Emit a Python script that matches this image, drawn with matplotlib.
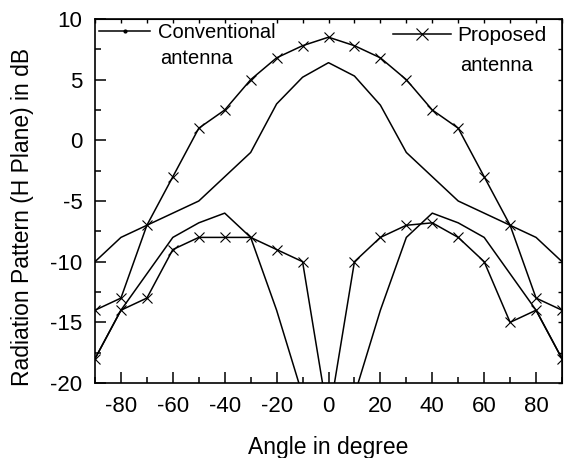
import matplotlib
matplotlib.use('Agg')
import matplotlib.pyplot as plt
from matplotlib.lines import Line2D
from matplotlib.ticker import MultipleLocator

plt.rcParams['font.family'] = ['Liberation Sans', 'DejaVu Sans']
plt.rcParams['axes.unicode_minus'] = False

angle = [-90, -80, -70, -60, -50, -40, -30, -20, -10, 0, 10, 20, 30, 40, 50, 60, 70, 80, 90]
conv_co = [-10, -8, -7, -6, -5, -3, -1, 3, 5.2, 6.4, 5.3, 2.9, -1, -3, -5, -6, -7, -8, -10]
conv_cross = [-18, -14, -11, -8, -6.8, -6, -8, -14, -21, -30, -21, -14, -8, -6, -6.8, -8, -11, -14, -18]
prop_co = [-14, -13, -7, -3, 1, 2.5, 5, 6.8, 7.8, 8.5, 7.8, 6.8, 5, 2.5, 1, -3, -7, -13, -14]
prop_cross = [-18, -14, -13, -9, -8, -8, -8, -9, -10, -23, -10, -8, -7, -6.8, -8, -10, -15, -14, -18]

W, H = 565, 458
fig = plt.figure(figsize=(W / 100, H / 100), dpi=100)
ax = fig.add_axes([95 / W, 1 - 383 / H, 467 / W, 364 / H])

lw = 1.1
ax.plot(angle, conv_co, color='black', lw=lw)
ax.plot(angle, conv_cross, color='black', lw=lw)
ax.plot(angle, prop_co, color='black', lw=lw, marker='x', ms=7.5, mew=0.8)
ax.plot(angle, prop_cross, color='black', lw=lw, marker='x', ms=7.5, mew=0.8)

ax.set_xlim(-90, 90)
ax.set_ylim(-20, 10)
ax.xaxis.set_major_locator(MultipleLocator(20))
ax.xaxis.set_minor_locator(MultipleLocator(10))
ax.yaxis.set_major_locator(MultipleLocator(5))
ax.yaxis.set_minor_locator(MultipleLocator(2.5))
ax.tick_params(which='major', direction='in', length=8, width=1.1, labelsize=16, pad=9)
ax.tick_params(which='minor', direction='in', length=4, width=1.1)
for s in ax.spines.values():
    s.set_linewidth(1.2)

# small ticks on top and right
top = ax.secondary_xaxis('top')
top.xaxis.set_major_locator(MultipleLocator(10))
top.tick_params(direction='in', length=3, width=1.0, labeltop=False)
right = ax.secondary_yaxis('right')
right.yaxis.set_major_locator(MultipleLocator(2.5))
right.tick_params(direction='in', length=3, width=1.0, labelright=False)

ax.set_xlabel('Angle in degree', fontsize=16.5, labelpad=14)
ax.set_ylabel('Radiation Pattern (H Plane) in dB', fontsize=16.5)
ax.yaxis.set_label_coords(-0.13, 0.455)

# legends
h1 = Line2D([], [], color='black', lw=lw, marker='.', ms=4)
h2 = Line2D([], [], color='black', lw=lw, marker='x', ms=9, mew=0.8)
leg1 = ax.legend([h1], ['Conventional'], loc='upper left', bbox_to_anchor=(99 / W, 1 - 23 / H),
                 bbox_transform=fig.transFigure, frameon=False, borderpad=0, borderaxespad=0,
                 handlelength=2.55, handletextpad=0.4, fontsize=14.5)
ax.add_artist(leg1)
ax.legend([h2], ['Proposed'], loc='upper left', bbox_to_anchor=(393 / W, 1 - 26 / H),
          bbox_transform=fig.transFigure, frameon=False, borderpad=0, borderaxespad=0,
          handlelength=2.8, handletextpad=0.3, fontsize=15)
fig.text(160 / W, 1 - 64 / H, 'antenna', fontsize=14.5, va='baseline', ha='left')
fig.text(460 / W, 1 - 71 / H, 'antenna', fontsize=14.5, va='baseline', ha='left')

fig.savefig('out.png', dpi=100)
